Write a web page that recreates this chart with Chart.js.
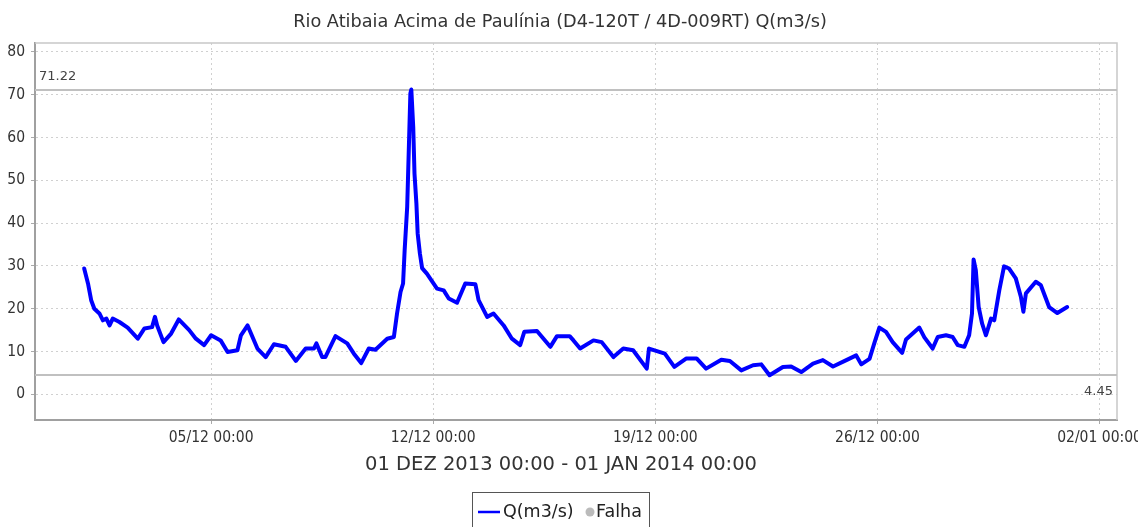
<!DOCTYPE html>
<html>
<head>
<meta charset="utf-8">
<script src="https://cdn.jsdelivr.net/npm/chart.js@4.4.1/dist/chart.umd.min.js"></script>
<style>
  html, body { margin: 0; padding: 0; background: #fff; }
</style>
</head>
<body>
<canvas id="vazaoChart" width="1138" height="527"></canvas>
<script>
// time in days after 01/12/2013 00:00, flow in m3/s
const days = [
  0.00, 0.12, 0.22, 0.32, 0.48, 0.59, 0.70, 0.80, 0.90, 1.11,
  1.37, 1.69, 1.90, 2.14, 2.23, 2.30, 2.50, 2.74, 2.98, 3.31,
  3.52, 3.78, 4.00, 4.30, 4.52, 4.83, 4.94, 5.15, 5.46, 5.72,
  5.98, 6.35, 6.67, 6.98, 7.24, 7.32, 7.50, 7.60, 7.92, 8.29,
  8.50, 8.73, 8.97, 9.18, 9.55, 9.76, 9.86, 9.97, 10.05, 10.10,
  10.18, 10.23, 10.28, 10.31, 10.37, 10.41, 10.47, 10.51, 10.58, 10.65,
  10.80, 11.12, 11.33, 11.49, 11.75, 12.01, 12.33, 12.43, 12.70, 12.90,
  13.22, 13.48, 13.74, 13.87, 14.27, 14.69, 14.90, 15.30, 15.42, 15.63,
  16.05, 16.31, 16.68, 16.99, 17.30, 17.73, 17.80, 18.30, 18.60, 18.98,
  19.30, 19.60, 20.08, 20.35, 20.71, 21.08, 21.34, 21.60, 22.02, 22.28,
  22.60, 22.97, 23.28, 23.60, 24.02, 24.33, 24.49, 24.75, 24.90, 25.06,
  25.27, 25.48, 25.78, 25.90, 26.32, 26.48, 26.74, 26.90, 27.16, 27.37,
  27.53, 27.74, 27.89, 27.98, 28.03, 28.10, 28.19, 28.30, 28.42, 28.58,
  28.68, 28.84, 28.99, 29.15, 29.36, 29.52, 29.60, 29.68, 29.99, 30.15,
  30.41, 30.67, 30.98
];
const flow = [
  29.4, 25.9, 22.0, 20.0, 18.9, 17.3, 17.7, 16.1, 17.7, 16.9,
  15.6, 13.0, 15.4, 15.7, 18.1, 16.1, 12.2, 14.2, 17.5, 15.0,
  13.0, 11.5, 13.8, 12.6, 9.9, 10.3, 13.8, 16.1, 10.7, 8.7,
  11.7, 11.1, 7.8, 10.7, 10.7, 11.9, 8.7, 8.7, 13.6, 11.9,
  9.5, 7.3, 10.7, 10.4, 13.0, 13.4, 18.9, 23.9, 25.9, 33.7,
  43.8, 57.0, 70.3, 71.22, 62.5, 51.6, 44.6, 37.6, 32.9, 29.5,
  28.2, 24.7, 24.3, 22.4, 21.4, 25.9, 25.7, 22.0, 18.1, 18.9,
  16.1, 13.0, 11.5, 14.6, 14.8, 11.1, 13.6, 13.6, 12.6, 10.7,
  12.6, 12.2, 8.7, 10.7, 10.3, 6.0, 10.7, 9.5, 6.4, 8.4,
  8.4, 6.0, 8.1, 7.8, 5.6, 6.8, 7.0, 4.45, 6.4, 6.5,
  5.2, 7.2, 8.0, 6.5, 8.0, 9.1, 7.0, 8.3, 11.9, 15.6,
  14.6, 12.2, 9.7, 12.8, 15.6, 13.3, 10.7, 13.4, 13.8, 13.4,
  11.5, 11.1, 13.8, 18.9, 31.5, 29.0, 20.4, 16.5, 13.8, 17.7,
  17.3, 24.3, 29.9, 29.4, 27.1, 22.8, 19.3, 23.6, 26.3, 25.5,
  20.4, 19.0, 20.4
];

const tickDays = [4, 11, 18, 25, 32];
const tickLabels = ['05/12 00:00', '12/12 00:00', '19/12 00:00', '26/12 00:00', '02/01 00:00'];
const yTicks = [0, 10, 20, 30, 40, 50, 60, 70, 80];
const maxFlow = 71.22;
const minFlow = 4.45;
const chartTitle = 'Rio Atibaia Acima de Paulínia (D4-120T / 4D-009RT) Q(m3/s)';
const periodLabel = '01 DEZ 2013 00:00 - 01 JAN 2014 00:00';
const seriesName = 'Q(m3/s)';
const gapName = 'Falha';

const tickFont = { family: '"DejaVu Sans Condensed", "DejaVu Sans"', size: 15.5 };

// border, max/min lines, title, axis caption and legend
const extras = {
  id: 'extras',
  beforeDatasetsDraw(chart) {
    const { ctx, chartArea: a, scales: { y } } = chart;
    ctx.save();
    ctx.strokeStyle = '#c8c8c8';
    ctx.lineWidth = 1.5;
    ctx.beginPath();
    ctx.moveTo(a.left, a.top);
    ctx.lineTo(a.right, a.top);
    ctx.lineTo(a.right, a.bottom);
    ctx.stroke();

    ctx.strokeStyle = '#c0c0c0';
    ctx.lineWidth = 2;
    [maxFlow, minFlow].forEach(v => {
      const py = Math.round(y.getPixelForValue(v));
      ctx.beginPath();
      ctx.moveTo(a.left, py);
      ctx.lineTo(a.right, py);
      ctx.stroke();
    });
    ctx.restore();
  },
  afterDraw(chart) {
    const { ctx, chartArea: a, scales: { y } } = chart;
    ctx.save();
    ctx.fillStyle = '#444';
    ctx.font = '13px "DejaVu Sans"';
    ctx.textBaseline = 'alphabetic';
    ctx.textAlign = 'left';
    ctx.fillText(maxFlow.toFixed(2), a.left + 4, y.getPixelForValue(maxFlow) - 10);
    ctx.textAlign = 'right';
    ctx.fillText(minFlow.toFixed(2), a.right - 4, y.getPixelForValue(minFlow) + 20);

    ctx.fillStyle = '#333';
    ctx.textAlign = 'center';
    ctx.textBaseline = 'middle';
    ctx.font = '17.7px "DejaVu Sans"';
    ctx.fillText(chartTitle, 560, 22);
    ctx.font = '19.5px "DejaVu Sans"';
    ctx.fillText(periodLabel, 561, 465);

    // legend
    ctx.strokeStyle = '#555';
    ctx.lineWidth = 1;
    ctx.strokeRect(472.5, 492.5, 177, 60);
    ctx.strokeStyle = '#0000ff';
    ctx.lineWidth = 2.5;
    ctx.beginPath();
    ctx.moveTo(478, 512);
    ctx.lineTo(500, 512);
    ctx.stroke();
    ctx.fillStyle = '#bbb';
    ctx.beginPath();
    ctx.arc(590, 512, 4.5, 0, Math.PI * 2);
    ctx.fill();
    ctx.fillStyle = '#222';
    ctx.textAlign = 'left';
    ctx.font = '17.5px "DejaVu Sans"';
    ctx.fillText(seriesName, 503, 512);
    ctx.fillText(gapName, 596, 512);
    ctx.restore();
  }
};

new Chart(document.getElementById('vazaoChart'), {
  type: 'line',
  data: {
    datasets: [{
      label: seriesName,
      data: days.map((d, i) => ({ x: d, y: flow[i] })),
      borderColor: '#0000ff',
      borderWidth: 4,
      borderJoinStyle: 'round',
      borderCapStyle: 'round',
      pointRadius: 0,
      tension: 0,
      fill: false
    }]
  },
  options: {
    responsive: false,
    animation: false,
    devicePixelRatio: 1,
    layout: { padding: { top: 43, right: 21, bottom: 67, left: 0 } },
    plugins: {
      legend: { display: false },
      title: { display: false },
      tooltip: { enabled: false }
    },
    scales: {
      x: {
        type: 'linear',
        min: -1.55,
        max: 32.55,
        afterBuildTicks: s => { s.ticks = tickDays.map(v => ({ value: v })); },
        afterFit: s => { s.height = 40; s.paddingLeft = 0; s.paddingRight = 0; },
        ticks: {
          autoSkip: false,
          maxRotation: 0,
          padding: 5,
          color: '#333',
          font: tickFont,
          callback: v => tickLabels[tickDays.indexOf(v)]
        },
        grid: { color: '#d0d0d0', tickColor: '#aaa', tickLength: 4 },
        border: { color: '#a0a0a0', width: 2, dash: [2, 3] }
      },
      y: {
        min: -6.0,
        max: 82.1,
        afterBuildTicks: s => { s.ticks = yTicks.map(v => ({ value: v })); },
        afterFit: s => { s.width = 35; s.paddingTop = 0; s.paddingBottom = 0; },
        ticks: { padding: 6, color: '#333', font: tickFont },
        grid: { color: '#d0d0d0', tickColor: '#aaa', tickLength: 4 },
        border: { color: '#a0a0a0', width: 2, dash: [2, 3] }
      }
    }
  },
  plugins: [extras]
});
</script>
</body>
</html>
